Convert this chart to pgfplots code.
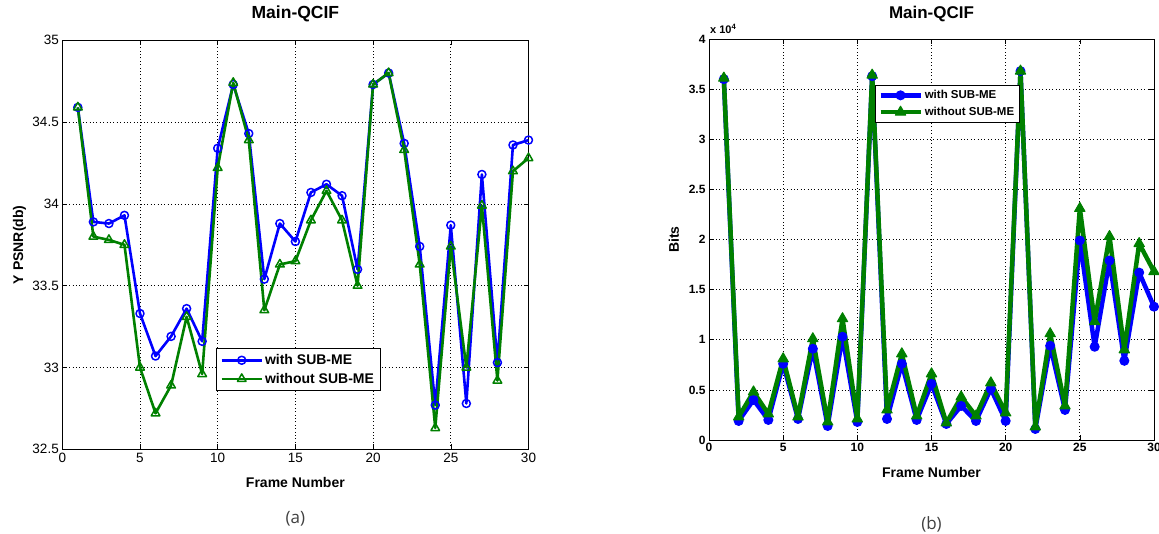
\documentclass[border=0pt]{standalone}
\usepackage{fontspec}
\setmainfont{Liberation Sans}
\newfontfamily\capfont{Open Sans}
\usepackage{pgfplots}
\pgfplotsset{compat=1.18}
\definecolor{mblue}{RGB}{0,0,255}
\definecolor{mgreen}{RGB}{0,128,0}
\pgfplotstableread{
x blue green
1 34.59 34.59
2 33.89 33.80
3 33.88 33.78
4 33.93 33.75
5 33.33 33.00
6 33.07 32.72
7 33.19 32.89
8 33.36 33.31
9 33.16 32.96
10 34.34 34.22
11 34.73 34.74
12 34.43 34.39
13 33.54 33.35
14 33.88 33.63
15 33.77 33.65
16 34.07 33.90
17 34.12 34.08
18 34.05 33.90
19 33.60 33.50
20 34.73 34.73
21 34.80 34.80
22 34.37 34.33
23 33.74 33.63
24 32.77 32.63
25 33.87 33.74
26 32.78 33.00
27 34.18 33.99
28 33.03 32.92
29 34.36 34.20
30 34.39 34.28
}\psnr
\pgfplotstableread{
x blue green
1 36000 36100
2 1900 2300
3 4000 4800
4 2000 2600
5 7600 8100
6 2100 2300
7 9100 10100
8 1400 1800
9 10300 12100
10 1800 2100
11 36300 36400
12 2100 3000
13 7600 8600
14 2000 2400
15 5600 6600
16 1600 1700
17 3400 4300
18 1900 2400
19 5100 5700
20 1900 2700
21 36800 36800
22 1100 1300
23 9400 10600
24 3000 3400
25 19900 23100
26 9300 11800
27 17900 20300
28 7900 9000
29 16700 19600
30 13300 16800
}\bits
\pgfplotsset{
  mstyle/.style={
    scale only axis, anchor=south west,
    xmin=0, xmax=30, xtick={0,5,...,30},
    grid=major,
    major grid style={black, dash pattern=on 0.8pt off 2.6pt, line width=0.7pt},
    axis line style={black, line width=0.8pt},
    tick align=inside, major tick length=5pt,
    tick style={black, line width=0.6pt},
    clip=false,
    /pgf/number format/assume math mode=true,
    legend cell align=left,
    legend image code/.code={%
      \draw[#1, mark=none] (0pt,0pt) -- (40pt,0pt);
      \draw[#1] plot[only marks] coordinates {(20pt,0pt)};},
  }
}
\begin{document}
\begin{tikzpicture}[x=1pt,y=1pt]
\useasboundingbox (0,0) rectangle (1159,533);
\begin{axis}[mstyle,
  at={(62.3pt,83.7pt)}, width=466.2pt, height=409pt,
  ymin=32.5, ymax=35, ytick={32.5,33,33.5,34,34.5,35},
  yticklabels={32.5,33,33.5,34,34.5,35},
  ticklabel style={font=\fontsize{13.5}{15}\selectfont},
  xlabel={Frame Number}, ylabel={Y PSNR(db)},
  xlabel style={font=\bfseries\fontsize{14}{16}\selectfont, at={(axis description cs:0.5,-0.08)}, anchor=center},
  ylabel style={font=\bfseries\fontsize{14}{16}\selectfont, at={(axis description cs:-0.092,0.5)}, anchor=center},
  title={Main-QCIF},
  title style={font=\bfseries\fontsize{17.5}{19}\selectfont, at={(axis description cs:0.5,1.049)}, anchor=center},
  legend style={at={(axis description cs:0.33,0.1425)}, anchor=south west,
    draw=black, line width=0.6pt, fill=white, font=\bfseries\fontsize{14}{16}\selectfont,
    inner xsep=4pt, inner ysep=4pt, row sep=3pt},
]
\addplot[mblue, line width=2.6pt, line join=round, mark=o, mark size=4pt, mark options={line width=1.5pt, fill=none}] table[x=x,y=blue] {\psnr};
\addlegendentry{with SUB-ME}
\addplot[mgreen, line width=2.6pt, line join=round, mark=triangle, mark size=5pt, mark options={line width=1.5pt, fill=none}] table[x=x,y=green] {\psnr};
\addlegendentry{without SUB-ME}
\node[font=\capfont\fontsize{17}{19}\selectfont, text=black!75] at (axis description cs:0.5,-0.169) {(a)};
\end{axis}
\begin{axis}[mstyle,
  at={(709pt,93pt)}, width=445pt, height=401pt,
  ymin=0, ymax=40000, ytick={0,5000,...,40000},
  yticklabels={0,0.5,1,1.5,2,2.5,3,3.5,4},
  scaled y ticks=false,
  ticklabel style={font=\bfseries\fontsize{12}{14}\selectfont},
  xlabel={Frame Number}, ylabel={Bits},
  xlabel style={font=\bfseries\fontsize{14}{16}\selectfont, at={(axis description cs:0.5,-0.08)}, anchor=center},
  ylabel style={font=\bfseries\fontsize{14}{16}\selectfont, at={(axis description cs:-0.079,0.5)}, anchor=center},
  title={Main-QCIF},
  title style={font=\bfseries\fontsize{17}{19}\selectfont, at={(axis description cs:0.5,1.047)}, anchor=center},
  legend style={at={(axis description cs:0.373,0.885)}, anchor=north west,
    draw=black, line width=0.6pt, fill=white, font=\bfseries\fontsize{11.5}{13}\selectfont,
    inner xsep=3pt, inner ysep=3pt, row sep=3pt},
]
\addplot[mblue, line width=4.5pt, line join=round, mark=*, mark size=4.5pt, mark options={line width=1pt}] table[x=x,y=blue] {\bits};
\addlegendentry{with SUB-ME}
\addplot[mgreen, line width=4.5pt, line join=round, mark=triangle*, mark size=6pt, mark options={line width=1pt}] table[x=x,y=green] {\bits};
\addlegendentry{without SUB-ME}
\node[font=\bfseries\fontsize{11}{13}\selectfont, anchor=south west, inner sep=0pt] at (axis description cs:0.002,1.012) {x 10$^{\mathbf{4}}$};
\node[font=\capfont\fontsize{17}{19}\selectfont, text=black!75] at (axis description cs:0.5,-0.21) {(b)};
\end{axis}
\end{tikzpicture}
\end{document}
